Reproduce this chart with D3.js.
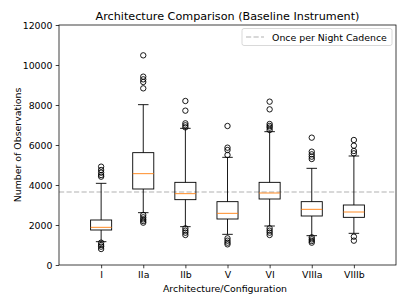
<!DOCTYPE html>
<html><head><meta charset="utf-8">
<script src="https://cdn.jsdelivr.net/npm/d3@7"></script>
<style>body{margin:0;background:#fff}svg{display:block}text{font-family:"DejaVu Sans",sans-serif}</style>
</head><body><svg id="c" width="407" height="305"></svg>
<script>
const categories = ["I","IIa","IIb","V","VI","VIIIa","VIIIb"];
const q1 =      [1750, 3800, 3267, 2300, 3300, 2450, 2383];
const medians = [1883, 4567, 3567, 2583, 3600, 2783, 2650];
const q3 =      [2250, 5617, 4133, 3167, 4133, 3167, 3000];
const whiskLo = [1167, 2617, 1917, 1533, 1950, 1467, 1583];
const whiskHi = [4083, 8017, 6833, 5383, 6667, 4833, 5450];
const outliers = [
  [4917,4750,4617,4500,4417,1117,1000,917,800],
  [10483,9417,9283,9150,8833,2500,2383,2283,2200,2117],
  [8200,7717,7083,6983,6883,1833,1717,1617,1500],
  [6950,5867,5750,5500,1333,1217,1117,1033],
  [8167,7783,7050,6950,6867,6750,1833,1717,1617,1500],
  [6367,5667,5533,5417,5300,1383,1283,1200,1117],
  [6250,5967,5700,5583,1417,1217]
];
const cadence = 3650;
const yTicks = [0,2000,4000,6000,8000,10000,12000];
const title = "Architecture Comparison (Baseline Instrument)";
const xLabel = "Architecture/Configuration";
const yLabel = "Number of Observations";
const legendLabel = "Once per Night Cadence";

const FS = 9.4;
const svg = d3.select("#c");
const L=59, R=396, T=25, B=265;
const x = d3.scaleLinear().domain([0, categories.length+1]).range([L,R]);
const y = d3.scaleLinear().domain([0,12000]).range([B,T]);
const bw = x(0.5)-x(0), cw = x(0.25)-x(0);
const g = svg.append("g");

// cadence line
g.append("line").attr("x1",L).attr("x2",R).attr("y1",y(cadence)).attr("y2",y(cadence))
  .attr("stroke","#cccccc").attr("stroke-width",1.4).attr("stroke-dasharray","5.2,2.3");

categories.forEach((c,i)=>{
  const cx = x(i+1);
  const s = g.append("g").attr("stroke","#000").attr("stroke-width",0.9).attr("fill","none");
  s.append("line").attr("x1",cx).attr("x2",cx).attr("y1",y(q3[i])).attr("y2",y(whiskHi[i]));
  s.append("line").attr("x1",cx).attr("x2",cx).attr("y1",y(q1[i])).attr("y2",y(whiskLo[i]));
  s.append("line").attr("x1",cx-cw/2).attr("x2",cx+cw/2).attr("y1",y(whiskHi[i])).attr("y2",y(whiskHi[i]));
  s.append("line").attr("x1",cx-cw/2).attr("x2",cx+cw/2).attr("y1",y(whiskLo[i])).attr("y2",y(whiskLo[i]));
  s.append("rect").attr("x",cx-bw/2).attr("width",bw).attr("y",y(q3[i])).attr("height",y(q1[i])-y(q3[i]));
  g.append("line").attr("x1",cx-bw/2).attr("x2",cx+bw/2).attr("y1",y(medians[i])).attr("y2",y(medians[i]))
    .attr("stroke","#ff7f0e").attr("stroke-width",0.9);
  outliers[i].forEach(v=>{
    g.append("circle").attr("cx",cx).attr("cy",y(v)).attr("r",2.7)
      .attr("fill","none").attr("stroke","#000").attr("stroke-width",0.9);
  });
});

// axes
const yAxis = d3.axisLeft(y).tickValues(yTicks).tickSize(3.3).tickPadding(3.2).tickFormat(d3.format("d"));
const ya = svg.append("g").attr("transform",`translate(${L},0)`).call(yAxis);
const xAxis = d3.axisBottom(x).tickValues(categories.map((c,i)=>i+1)).tickSize(3.3).tickPadding(3.2)
  .tickFormat((d)=>categories[d-1]);
const xa = svg.append("g").attr("transform",`translate(0,${B})`).call(xAxis);
[ya,xa].forEach(a=>{a.select(".domain").remove();a.selectAll("line").attr("stroke","#000").attr("stroke-width",0.75);
  a.selectAll("text").attr("font-size",FS).attr("fill","#000").attr("font-family","DejaVu Sans");});
svg.append("rect").attr("x",L).attr("y",T).attr("width",R-L).attr("height",B-T)
  .attr("fill","none").attr("stroke","#000").attr("stroke-width",0.75);

// legend
const lg = svg.append("g");
lg.append("rect").attr("x",242).attr("y",28.5).attr("width",150).attr("height",17).attr("rx",2)
  .attr("fill","#fff").attr("fill-opacity",0.8).attr("stroke","#cccccc").attr("stroke-width",0.75);
lg.append("line").attr("x1",246).attr("x2",264).attr("y1",37).attr("y2",37)
  .attr("stroke","#cccccc").attr("stroke-width",1.4).attr("stroke-dasharray","5.2,2.3");
lg.append("text").attr("x",272).attr("y",40.5).attr("font-size",FS).text(legendLabel);

// labels
svg.append("text").attr("x",(L+R)/2).attr("y",19.5).attr("text-anchor","middle").attr("font-size",11.2).text(title);
svg.append("text").attr("x",225).attr("y",291.5).attr("text-anchor","middle").attr("font-size",FS).text(xLabel);
svg.append("text").attr("transform",`translate(21,${(T+B)/2}) rotate(-90)`).attr("text-anchor","middle").attr("font-size",FS).text(yLabel);
</script></body></html>
